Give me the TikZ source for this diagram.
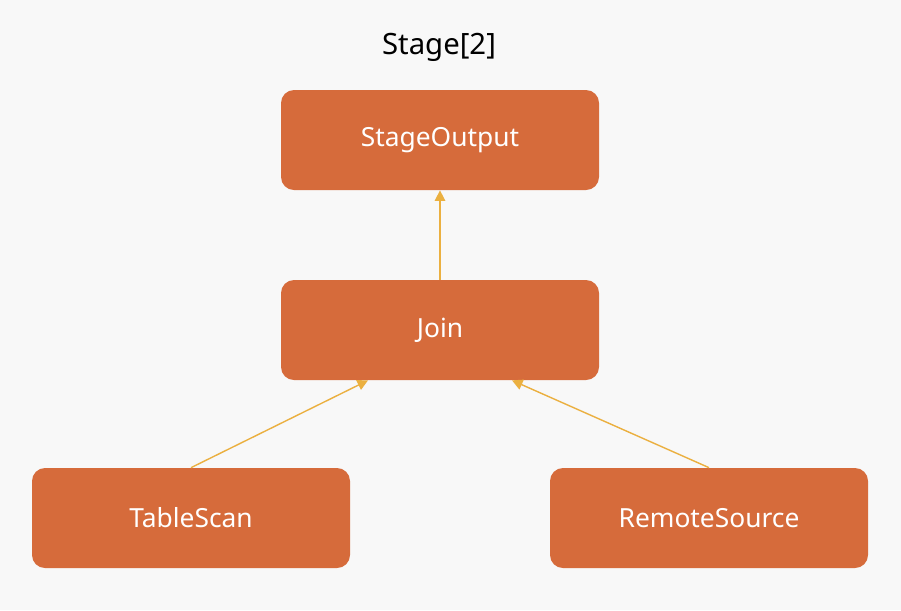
\documentclass[tikz,border=0pt]{standalone}
\usepackage{fontspec}
\setmainfont{Noto Sans}
\usepackage{tikz}
\usetikzlibrary{arrows.meta, positioning, calc}
\definecolor{opfill}{HTML}{D66B3B}
\definecolor{edgecol}{HTML}{EBB040}
\definecolor{bgcol}{HTML}{F8F8F8}
\begin{document}
\begin{tikzpicture}[
        x=0.02cm, y=-0.02cm,
        op/.style={fill=opfill, rounded corners=13*0.02cm, minimum width=318*0.02cm, minimum height=100*0.02cm, align=center, font=\fontsize{15}{18}\selectfont, text=white, inner sep=0pt},
        >={Triangle[length=6pt, width=6pt]}
    ]
        \fill[bgcol] (0,0) rectangle (901,610);
        \useasboundingbox (0,0) rectangle (901,610);

        \node[font=\fontsize{16.7}{20}\selectfont] (title) at (439,47) {Stage[2]};

        \node[op] (out)  at (440,140) {StageOutput};
        \node[op] (join) at (440,330) {Join};
        \node[op] (scan) at (191,518) {TableScan};
        \node[op] (rs)   at (709,518) {RemoteSource};

        \draw[->, edgecol, line width=0.8pt] (join.north) -- (out.south);
        \draw[->, edgecol, line width=0.8pt] (scan.north) -- ($(join.south)+(-72,0)$);
        \draw[->, edgecol, line width=0.8pt] (rs.north) -- ($(join.south)+(72,0)$);
    \end{tikzpicture}
\end{document}
